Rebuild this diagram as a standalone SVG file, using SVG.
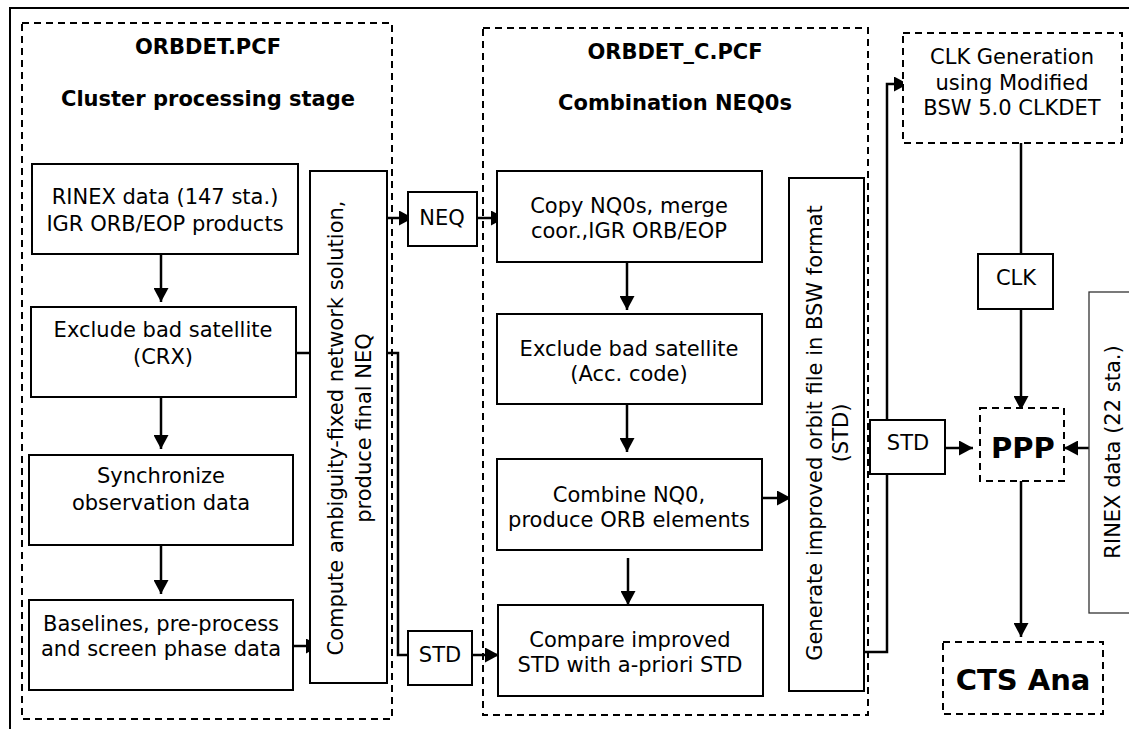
<svg xmlns="http://www.w3.org/2000/svg" width="1129" height="729" viewBox="0 0 1129 729">
  <style>
    text { font-family: "DejaVu Sans", Verdana, sans-serif; font-size: 21px; fill: #000; text-anchor: middle; }
    .bold { font-weight: bold; }
    .big { font-weight: bold; font-size: 29px; }
    .box { fill: #fff; stroke: #000; stroke-width: 2; }
    .dash { fill: none; stroke: #000; stroke-width: 2; stroke-dasharray: 7 5; }
    .dashw { fill: #fff; stroke: #000; stroke-width: 2; stroke-dasharray: 7 5; }
    .thin { fill: #fff; stroke: #333; stroke-width: 1.3; }
    .wire { fill: none; stroke: #000; stroke-width: 2.5; }
    .arrow { fill: none; stroke: #000; stroke-width: 2.5; marker-end: url(#head); }
  </style>
  <defs>
    <marker id="head" markerUnits="userSpaceOnUse" markerWidth="15" markerHeight="15" refX="14" refY="7.5" orient="auto">
      <path d="M0,0 L14,7.5 L0,15 z" fill="#000"/>
    </marker>
  </defs>

  <rect width="1129" height="729" fill="#fff"/>

  <!-- outer frame -->
  <path d="M10,729 V8 H1129" fill="none" stroke="#000" stroke-width="2"/>

  <!-- stage containers -->
  <g id="stage-orbdet">
    <rect class="dash" x="22" y="23" width="370" height="696"/>
    <text class="bold" x="208" y="54">ORBDET.PCF</text>
    <text class="bold" x="208" y="106">Cluster processing stage</text>
  </g>
  <g id="stage-orbdet-c">
    <rect class="dash" x="483" y="28" width="385" height="687"/>
    <text class="bold" x="675" y="59">ORBDET_C.PCF</text>
    <text class="bold" x="675" y="110">Combination NEQ0s</text>
  </g>

  <!-- connectors -->
  <g id="connectors">
    <line class="arrow" x1="161" y1="254" x2="161" y2="302"/>
    <line class="arrow" x1="161" y1="397" x2="161" y2="449"/>
    <line class="arrow" x1="161" y1="545" x2="161" y2="594"/>
    <line class="arrow" x1="293" y1="646" x2="320" y2="646"/>
    <line class="wire" x1="296" y1="353" x2="310" y2="353"/>
    <line class="arrow" x1="387" y1="218" x2="413" y2="218"/>
    <line class="arrow" x1="477" y1="218" x2="505" y2="218"/>
    <path class="wire" d="M387,353 H398 V655 H408"/>
    <line class="arrow" x1="472" y1="655" x2="499" y2="655"/>
    <line class="arrow" x1="627" y1="262" x2="627" y2="310"/>
    <line class="arrow" x1="627" y1="404" x2="627" y2="452"/>
    <line class="arrow" x1="628" y1="558" x2="628" y2="605"/>
    <line class="arrow" x1="762" y1="498" x2="791" y2="498"/>
    <path class="arrow" d="M864,652 H887 V84 H908"/>
    <line class="arrow" x1="945" y1="448" x2="973" y2="448"/>
    <line class="wire" x1="1021" y1="143" x2="1021" y2="254"/>
    <line class="arrow" x1="1021" y1="309" x2="1021" y2="410"/>
    <line class="arrow" x1="1089" y1="448" x2="1064" y2="448"/>
    <line class="arrow" x1="1021" y1="481" x2="1021" y2="637"/>
  </g>

  <!-- cluster processing nodes -->
  <g id="rinex-147">
    <rect class="box" x="32" y="164" width="266" height="90"/>
    <text x="165" y="204">RINEX data (147 sta.)</text>
    <text x="165" y="231">IGR ORB/EOP products</text>
  </g>
  <g id="exclude-crx">
    <rect class="box" x="31" y="307" width="265" height="90"/>
    <text x="163" y="337">Exclude bad satellite</text>
    <text x="163" y="364">(CRX)</text>
  </g>
  <g id="synchronize">
    <rect class="box" x="29" y="455" width="264" height="90"/>
    <text x="161" y="483">Synchronize</text>
    <text x="161" y="510">observation data</text>
  </g>
  <g id="baselines">
    <rect class="box" x="29" y="600" width="264" height="90"/>
    <text x="161" y="631">Baselines, pre-process</text>
    <text x="161" y="656">and screen phase data</text>
  </g>
  <g id="compute-neq">
    <rect class="box" x="310" y="171" width="77" height="512"/>
    <g transform="translate(0,428) rotate(-90)">
      <text x="0" y="343">Compute ambiguity-fixed network solution,</text>
      <text x="0" y="371">produce final NEQ</text>
    </g>
  </g>

  <!-- transfer labels -->
  <g id="neq">
    <rect class="box" x="408" y="192" width="69" height="54"/>
    <text x="442" y="225">NEQ</text>
  </g>
  <g id="std-left">
    <rect class="box" x="408" y="631" width="64" height="54"/>
    <text x="440" y="662">STD</text>
  </g>

  <!-- combination nodes -->
  <g id="copy-nq0">
    <rect class="box" x="497" y="171" width="265" height="91"/>
    <text x="629" y="213">Copy NQ0s, merge</text>
    <text x="629" y="238">coor.,IGR ORB/EOP</text>
  </g>
  <g id="exclude-acc">
    <rect class="box" x="497" y="314" width="265" height="90"/>
    <text x="629" y="356">Exclude bad satellite</text>
    <text x="629" y="381">(Acc. code)</text>
  </g>
  <g id="combine-nq0">
    <rect class="box" x="497" y="459" width="265" height="91"/>
    <text x="629" y="502">Combine NQ0,</text>
    <text x="629" y="527">produce ORB elements</text>
  </g>
  <g id="compare-std">
    <rect class="box" x="498" y="605" width="265" height="91"/>
    <text x="630" y="647">Compare improved</text>
    <text x="630" y="672">STD with a-priori STD</text>
  </g>
  <g id="generate-orbit">
    <rect class="box" x="789" y="178" width="75" height="513"/>
    <g transform="translate(0,433) rotate(-90)">
      <text x="0" y="822">Generate improved orbit file in BSW format</text>
      <text x="0" y="848">(STD)</text>
    </g>
  </g>

  <!-- clock and PPP nodes -->
  <g id="std-right">
    <rect class="box" x="870" y="420" width="75" height="54"/>
    <text x="908" y="450">STD</text>
  </g>
  <g id="clk-generation">
    <rect class="dashw" x="903" y="33" width="219" height="110"/>
    <text x="1012" y="64">CLK Generation</text>
    <text x="1012" y="90">using Modified</text>
    <text x="1012" y="115">BSW 5.0 CLKDET</text>
  </g>
  <g id="clk">
    <rect class="box" x="978" y="254" width="75" height="55"/>
    <text x="1016" y="285">CLK</text>
  </g>
  <g id="rinex-22">
    <rect class="thin" x="1089" y="292" width="60" height="321"/>
    <text transform="translate(0,452) rotate(-90)" x="0" y="1120">RINEX data (22 sta.)</text>
  </g>
  <g id="ppp">
    <rect class="dashw" x="980" y="408" width="84" height="73"/>
    <text class="big" x="1023" y="458">PPP</text>
  </g>
  <g id="cts-ana">
    <rect class="dashw" x="943" y="642" width="160" height="72"/>
    <text class="big" x="1023" y="690">CTS Ana</text>
  </g>
</svg>
